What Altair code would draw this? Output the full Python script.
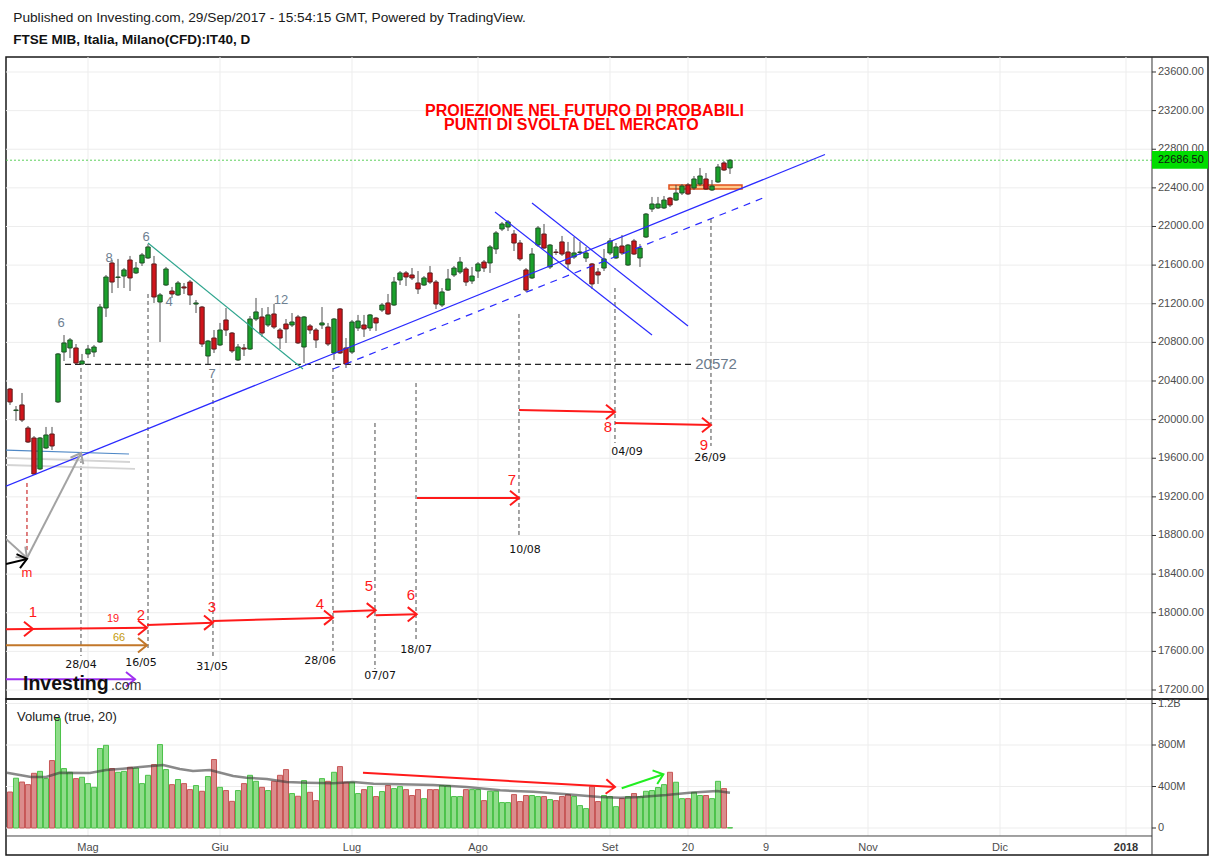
import altair as alt
import pandas as pd

# ---------------- daily bars (index 0 .. 120, last bar = 29/09/2017) ----------------
opens = [20317, 20094, 20152, 19913, 19810, 19489, 19706, 19851, 20183, 20700,
         20742, 20742, 20576, 20680, 20700, 20804, 21156, 21622, 21472, 21487,
         21653, 21519, 21622, 21674, 21612, 21218, 21394, 21332, 21291, 21374,
         21425, 21197, 21166, 20659, 20845, 20773, 21032, 20897, 20618, 20742,
         20731, 21042, 21063, 20980, 21094, 20928, 20990, 20980, 21063, 20752,
         20970, 20928, 20980, 20959, 20690, 21146, 20742, 20700, 20949, 20980,
         20949, 21052, 21135, 21208, 21187, 21446, 21519, 21498, 21415, 21394,
         21519, 21425, 21187, 21342, 21498, 21529, 21560, 21436, 21539, 21632,
         21622, 21767, 21974, 21995, 21922, 21829, 21550, 21467, 21808, 21922,
         21581, 21736, 21840, 21736, 21684, 21731, 21674, 21612, 21529, 21570,
         21726, 21674, 21798, 21601, 21850, 21674, 21891, 22181, 22192, 22192,
         22295, 22274, 22347, 22430, 22399, 22440, 22492, 22378, 22461, 22658,
         22606]
highs = [20328, 20141, 20276, 19934, 19830, 19820, 19924, 19924, 20690, 20876,
         20845, 20783, 20680, 20773, 20773, 21197, 21498, 21653, 21664, 21570,
         21695, 21632, 21726, 21819, 21695, 21311, 21581, 21374, 21436, 21415,
         21446, 21239, 21177, 20825, 20928, 21001, 21156, 20907, 20783, 20783,
         21073, 21260, 21156, 21166, 21197, 20949, 21042, 21104, 21084, 21073,
         20990, 20949, 21166, 21001, 21052, 21156, 20845, 21032, 21084, 21084,
         21094, 21063, 21208, 21301, 21477, 21539, 21539, 21570, 21539, 21487,
         21591, 21446, 21363, 21560, 21591, 21684, 21581, 21581, 21632, 21653,
         21808, 21953, 22047, 22067, 21964, 21860, 21570, 21777, 22005, 22026,
         21819, 21767, 21902, 21840, 21891, 21840, 21788, 21622, 21570, 21767,
         21881, 21829, 21912, 21819, 21871, 21819, 22140, 22306, 22306, 22316,
         22306, 22430, 22440, 22451, 22523, 22606, 22554, 22482, 22647, 22678,
         22699]
lows = [20152, 19986, 19975, 19758, 19427, 19478, 19696, 19685, 20172, 20607,
        20638, 20576, 20566, 20638, 20649, 20794, 21063, 21311, 21363, 21363,
        21332, 21508, 21591, 21664, 21208, 20804, 21384, 21260, 21280, 21301,
        21187, 21104, 20752, 20576, 20690, 20762, 20866, 20690, 20607, 20659,
        20721, 21021, 20856, 20959, 20939, 20731, 20794, 20959, 20783, 20586,
        20887, 20742, 20939, 20762, 20618, 20680, 20535, 20680, 20918, 20856,
        20918, 20918, 21115, 21084, 21177, 21394, 21384, 21446, 21301, 21384,
        21405, 21146, 21166, 21332, 21477, 21508, 21384, 21405, 21467, 21529,
        21519, 21715, 21953, 21953, 21746, 21643, 21322, 21456, 21788, 21767,
        21560, 21705, 21695, 21550, 21664, 21705, 21632, 21353, 21405, 21539,
        21705, 21664, 21705, 21591, 21705, 21581, 21881, 22150, 22181, 22181,
        22202, 22264, 22326, 22326, 22378, 22419, 22378, 22368, 22451, 22575,
        22544]
closes = [20183, 20100, 19996, 19768, 19437, 19810, 19841, 19727, 20680, 20794,
          20825, 20586, 20607, 20731, 20752, 21166, 21477, 21425, 21477, 21550,
          21467, 21570, 21705, 21788, 21270, 21291, 21560, 21301, 21415, 21363,
          21291, 21208, 20783, 20814, 20731, 20928, 20928, 20711, 20752, 20731,
          21042, 21115, 20897, 21084, 20959, 20845, 20939, 21011, 20794, 21063,
          20928, 20825, 21001, 20783, 21042, 20690, 20576, 21011, 21021, 20939,
          21084, 21001, 21187, 21094, 21425, 21519, 21477, 21467, 21353, 21467,
          21425, 21197, 21322, 21456, 21570, 21632, 21425, 21487, 21612, 21570,
          21788, 21933, 22026, 22047, 21829, 21664, 21342, 21715, 21984, 21777,
          21808, 21731, 21715, 21612, 21726, 21736, 21726, 21405, 21498, 21664,
          21850, 21788, 21726, 21808, 21715, 21777, 22129, 22233, 22233, 22274,
          22223, 22347, 22419, 22337, 22492, 22523, 22388, 22419, 22616, 22585,
          22686.5]
volumes_m = [347, 480, 443, 418, 527, 546, 476, 650, 1055, 573,
             537, 476, 489, 428, 392, 766, 797, 573, 537, 546,
             585, 578, 428, 508, 611, 804, 563, 418, 467, 428,
             370, 409, 354, 496, 660, 392, 361, 257, 361, 428,
             508, 450, 392, 361, 450, 508, 563, 332, 306, 457,
             344, 264, 476, 450, 537, 592, 441, 441, 332, 370,
             399, 303, 351, 409, 380, 399, 370, 313, 370, 283,
             370, 370, 409, 409, 303, 303, 370, 370, 370, 264,
             354, 354, 245, 245, 322, 255, 313, 313, 303, 303,
             274, 264, 303, 322, 303, 216, 187, 399, 255, 313,
             303, 206, 283, 303, 332, 303, 354, 361, 390, 418,
             537, 441, 283, 283, 344, 313, 313, 283, 450, 380,
             3]

# 20-period volume average as drawn in the lower pane (bar index, millions)
ma_idx = [-0.5, 3.5, 6, 8.3, 13.3, 16, 18.8, 21.7, 25.5, 28.3, 30.5, 33.3, 37.2, 39.4,
          42.8, 46.1, 49.4, 53.9, 57.2, 60.6, 65, 70.6, 76.1, 81.7, 87.2, 92.8, 98.3,
          101.7, 105, 109.4, 113.3, 117.8, 120]
ma_val = [533, 492, 492, 533, 530, 559, 572, 588, 607, 569, 549, 559, 501, 485,
          472, 443, 437, 431, 443, 427, 421, 414, 395, 363, 350, 325, 299,
          292, 299, 318, 340, 357, 340]

last_price = 22686.5

# axes
price_ticks = [17200, 17600, 18000, 18400, 18800, 19200, 19600, 20000, 20400,
               20800, 21200, 21600, 22000, 22400, 22800, 23200, 23600]
vol_ticks = [0, 400, 800, 1200]
vol_tick_labels = ["0", "400M", "800M", "1.2B"]
x_tick_idx = [13, 35, 57, 78, 100, 113, 126, 143, 165, 186]
x_tick_lab = ["Mag", "Giu", "Lug", "Ago", "Set", "20", "9", "Nov", "Dic", "2018"]

# ---------------- drawings (bar index, price) ----------------
trend_blue = [(-0.667, 19310, 135.83, 22745), (80.83, 22150, 107.0, 20876),
              (87.0, 22243, 113.0, 20970)]
trend_blue_dash = [(53.83, 20524, 125.5, 22295)]
trend_teal = [(23.0, 21829, 48.83, 20524)]
line_steel = [(-0.667, 19685, 19.83, 19644)]
line_lightgrey = [(-0.667, 19603, 20.0, 19561), (-0.667, 19530, 20.83, 19489)]
level_20572 = [(9.17, 20572, 114.0, 20572)]
red_dash_v = [(2.83, 19344, 2.83, 18619)]

cycle_idx = [11.83, 23.0, 33.83, 53.83, 60.83, 67.67, 84.83, 100.83, 116.83]
cycle_top = [20535, 21301, 20421, 20535, 19965, 20379, 21094, 21363, 22078]
cycle_bot = [17552, 17604, 17552, 17604, 17417, 17707, 18795, 19758, 19727]
cycle_lab = ["28/04", "16/05", "31/05", "28/06", "07/07", "18/07", "10/08", "04/09", "26/09"]
cycle_lab_i = [11.83, 21.83, 33.67, 51.67, 61.67, 67.67, 85.83, 102.83, 116.67]
cycle_lab_p = [17455, 17480, 17438, 17500, 17345, 17614, 18650, 19665, 19603]

red_arrows = [(-0.667, 17829, 22.83, 17845), (22.83, 17873, 33.83, 17897),
              (33.83, 17915, 53.83, 17949), (53.83, 18011, 60.95, 18025),
              (60.95, 17974, 67.78, 17984), (67.83, 19188, 84.83, 19188),
              (84.83, 20100, 100.83, 20079), (100.83, 19965, 116.83, 19944)]
red_mid_head = [(3.83, 17832)]
brown_arrow = [(-0.667, 17663, 22.83, 17663)]
purple_arrow = [(-0.667, 17311, 20.83, 17311)]
grey_arrow_up = [(2.83, 18567, 11.83, 19654)]
grey_arrow_in = [(-0.667, 18764, 2.83, 18567)]
black_arrow = [(-0.667, 18505, 2.83, 18557)]

red_numbers = [(3.83, 18008, "1"), (21.83, 17977, "2"), (33.67, 18060, "3"),
               (51.67, 18091, "4"), (59.83, 18277, "5"), (66.83, 18184, "6"),
               (83.67, 19375, "7"), (99.67, 19924, "8"), (115.67, 19740, "9")]
red_small = [(17.17, 17935, "19")]
red_m = [(2.83, 18412, "m")]
gold_small = [(18.17, 17739, "66")]
wave_counts = [(8.5, 21001, "6"), (16.5, 21674, "8"), (22.67, 21891, "6"),
               (26.5, 21218, "4"), (45.17, 21239, "12"), (33.67, 20472, "7")]
level_label = [(114.2, 20572, "20572")]
headline = [(69.17, 23201, "PROIEZIONE NEL FUTURO DI PROBABILI"),
            (72.33, 23046, "PUNTI DI SVOLTA DEL MERCATO")]
zone_rect = [(109.83, 22388, 122.0, 22430)]

# lower pane drawings (bar index, volume in millions)
vol_red_arrow = [(58.83, 533, 100.83, 395)]
vol_green_arrow = [(101.95, 383, 108.9, 518)]

# ---------------- layout constants ----------------
SANS = "Liberation Sans"
X_LEFT, X_RIGHT = -0.667, 199.667
AXIS_I = 190.333
TICK_I = 191.0
LABEL_I = 191.33
P_LOW, P_HIGH = 17106.8, 23755.3
V_LOW, V_HIGH = -260.2, 1243.4
V_BASE = -77.0
V_XLABEL = -192.7
W, H_P, H_V = 1202, 642, 156
CHEVRON = "M-1,-0.8L0,0L-1,0.8"
GREEN, GREEN_D = "#1aa12b", "#1f4f26"
RED, RED_D = "#d1141b", "#5c1d1d"
GRID = "#ededed"
AXC = "#333333"
LABC = "#4d4d4d"

XS = alt.Scale(domain=[X_LEFT, X_RIGHT], nice=False, zero=False, padding=0)
PS = alt.Scale(domain=[P_LOW, P_HIGH], nice=False, zero=False, padding=0)
VS = alt.Scale(domain=[V_LOW, V_HIGH], nice=False, zero=False, padding=0)


def X(f):
    return alt.X(f, type="quantitative", scale=XS, axis=None)


def PY(f):
    return alt.Y(f, type="quantitative", scale=PS, axis=None)


def VY(f):
    return alt.Y(f, type="quantitative", scale=VS, axis=None)


def segs(rows, color, width=1.0, dash=None, yenc=PY):
    df = pd.DataFrame(rows, columns=["x0", "y0", "x1", "y1"])
    kw = dict(color=color, strokeWidth=width, clip=True)
    if dash:
        kw["strokeDash"] = dash
    return alt.Chart(df).mark_rule(**kw).encode(x=X("x0"), x2="x1", y=yenc("y0"), y2="y1")


def heads(pts, color, angle=0, size=324, width=2, yenc=PY):
    df = pd.DataFrame(pts, columns=["x", "y"])
    return alt.Chart(df).mark_point(shape=CHEVRON, filled=False, size=size, strokeWidth=width,
                                    color=color, opacity=1, angle=angle, clip=True).encode(x=X("x"), y=yenc("y"))


def ends(rows):
    return [(r[2], r[3]) for r in rows]


def texts(rows, color, size, align="center", weight="normal", font=SANS, yenc=PY, baseline="middle"):
    df = pd.DataFrame(rows, columns=["x", "y", "t"])
    return alt.Chart(df).mark_text(color=color, fontSize=size, align=align, baseline=baseline,
                                   fontWeight=weight, font=font, clip=True).encode(
        x=X("x"), y=yenc("y"), text="t:N")


def right_axis(ticks, labels, yenc):
    df = pd.DataFrame({"v": ticks, "t": labels, "x0": AXIS_I, "x1": TICK_I, "xl": LABEL_I})
    line = alt.Chart(pd.DataFrame({"x": [AXIS_I]})).mark_rule(color=AXC, strokeWidth=1, clip=True).encode(x=X("x"))
    tk = alt.Chart(df).mark_rule(color=AXC, strokeWidth=1, clip=True).encode(x=X("x0"), x2="x1", y=yenc("v"))
    lb = alt.Chart(df).mark_text(color=LABC, fontSize=11, font=SANS, align="left", baseline="middle",
                                 clip=True).encode(x=X("xl"), y=yenc("v"), text="t:N")
    return [line, tk, lb]


bars = pd.DataFrame({"i": list(range(len(closes))), "o": opens, "h": highs, "l": lows,
                     "c": closes, "v": volumes_m})
UP = "datum.c >= datum.o"

# ---------------- price pane ----------------
grid_h = alt.Chart(pd.DataFrame({"p": price_ticks, "x0": X_LEFT, "x1": AXIS_I})).mark_rule(
    color=GRID, strokeWidth=1, clip=True).encode(x=X("x0"), x2="x1", y=PY("p"))
grid_v = alt.Chart(pd.DataFrame({"i": x_tick_idx})).mark_rule(color=GRID, strokeWidth=1, clip=True).encode(x=X("i"))
last_line = segs([(X_LEFT, last_price, AXIS_I, last_price)], "#5ccf5c", 1, [2, 2])
zone = alt.Chart(pd.DataFrame(zone_rect, columns=["x0", "y0", "x1", "y1"])).mark_rect(
    fill="#ffc98a", stroke="#e0501c", strokeWidth=1.5, clip=True).encode(x=X("x0"), x2="x1", y=PY("y0"), y2="y1")

cyc = pd.DataFrame({"x0": cycle_idx, "y0": cycle_top, "x1": cycle_idx, "y1": cycle_bot})
cycle_lines = alt.Chart(cyc).mark_rule(color="#4a4a4a", strokeWidth=1, strokeDash=[4, 3], clip=True).encode(
    x=X("x0"), x2="x1", y=PY("y0"), y2="y1")
cycle_texts = texts(list(zip(cycle_lab_i, cycle_lab_p, cycle_lab)), "#111", 11, font="DejaVu Sans")

wicks = alt.Chart(bars).mark_rule(color="#4f4f4f", strokeWidth=1, clip=True).encode(x=X("i"), y=PY("l"), y2="h")
bodies = alt.Chart(bars).transform_calculate(
    b0="datum.i - 0.36", b1="datum.i + 0.36"
).mark_rect(strokeWidth=1, clip=True).encode(
    x=X("b0:Q"), x2="b1:Q", y=PY("o"), y2="c",
    fill=alt.condition(UP, alt.value(GREEN), alt.value(RED)),
    stroke=alt.condition(UP, alt.value(GREEN_D), alt.value(RED_D)))

price_price_labels = [f"{v:.2f}" for v in price_ticks]

price_layers = [
    grid_h, grid_v, last_line, zone,
    segs(level_20572, "#222", 1.2, [6, 4]),
    cycle_lines,
    segs(red_dash_v, "#c00000", 1, [4, 3]),
    segs(line_steel, "#4f88c6", 1.2),
    segs(line_lightgrey, "#d4d4d4", 1.8),
    wicks, bodies,
    segs(trend_blue, "#2a2aff", 1.2),
    segs(trend_blue_dash, "#2a2aff", 1.2, [7, 6]),
    segs(trend_teal, "#2ea58e", 1.2),
    segs(red_arrows, "#ff1a1a", 2), heads(ends(red_arrows) + red_mid_head, "#ff1a1a"),
    segs(brown_arrow, "#c2772a", 2), heads(ends(brown_arrow), "#c2772a"),
    segs(purple_arrow, "#a030f0", 2), heads(ends(purple_arrow), "#a030f0"),
    segs(grey_arrow_up, "#a3a3a3", 2), heads(ends(grey_arrow_up), "#a3a3a3", angle=297),
    segs(grey_arrow_in, "#a3a3a3", 2), heads(ends(grey_arrow_in), "#a3a3a3", angle=43),
    segs(black_arrow, "#000000", 2), heads(ends(black_arrow), "#000000", angle=346),
    cycle_texts,
    texts(red_numbers, "#ff1a1a", 15),
    texts(red_small, "#ff1a1a", 11),
    texts(red_m, "#ff1a1a", 13),
    texts(gold_small, "#c49a0c", 11),
    texts(wave_counts, "#6e7f91", 13),
    texts(level_label, "#6b7b8c", 15, align="left"),
    texts(headline, "#ff0000", 16, align="left", weight="bold"),
    texts([(2.17, 17200, "Investing")], "#111111", 19.5, align="left", weight="bold", baseline="alphabetic"),
    texts([(16.83, 17200, ".com")], "#333333", 14, align="left", baseline="alphabetic"),
] + right_axis(price_ticks, price_price_labels, PY)

price_box = alt.Chart(pd.DataFrame({"x0": [AXIS_I], "x1": [X_RIGHT], "y0": [22598], "y1": [22782]})).mark_rect(
    fill="#00dd00", clip=True).encode(x=X("x0"), x2="x1", y=PY("y0"), y2="y1")
price_box_text = texts([(LABEL_I, last_price, "22686.50")], "#111111", 11, align="left")

price = alt.layer(*price_layers, price_box, price_box_text).properties(width=W, height=H_P)

# ---------------- volume pane ----------------
vgrid_h = alt.Chart(pd.DataFrame({"v": vol_ticks, "x0": X_LEFT, "x1": AXIS_I})).mark_rule(
    color=GRID, strokeWidth=1, clip=True).encode(x=X("x0"), x2="x1", y=VY("v"))
vgrid_v = alt.Chart(pd.DataFrame({"i": x_tick_idx, "y0": V_BASE, "y1": V_HIGH})).mark_rule(
    color=GRID, strokeWidth=1, clip=True).encode(x=X("i"), y=VY("y0"), y2="y1")
vbase = segs([(X_LEFT, V_BASE, AXIS_I, V_BASE)], "#444444", 1, yenc=VY)
vbars = alt.Chart(bars).transform_calculate(
    b0="datum.i - 0.42", b1="datum.i + 0.42", z="0"
).mark_rect(strokeWidth=1, clip=True).encode(
    x=X("b0:Q"), x2="b1:Q", y=VY("v"), y2="z:Q",
    fill=alt.condition(UP, alt.value("#8fdc8a"), alt.value("#db8c8c")),
    stroke=alt.condition(UP, alt.value("#4cc24a"), alt.value("#c75757")))
ma = alt.Chart(pd.DataFrame({"i": ma_idx, "v": ma_val})).mark_line(
    color="#3a3a3a", strokeWidth=2.5, opacity=0.6, strokeJoin="round", clip=True).encode(x=X("i"), y=VY("v"))

x_rows = [(i, V_XLABEL, t) for i, t in zip(x_tick_idx, x_tick_lab)]
x_labels_plain = texts([r for r in x_rows if r[2] != "2018"], LABC, 11, yenc=VY)
x_labels_bold = texts([r for r in x_rows if r[2] == "2018"], "#333333", 11, weight="bold", yenc=VY)

volume = alt.layer(
    vgrid_h, vgrid_v, vbase, vbars, ma,
    segs(vol_red_arrow, "#ff1a1a", 2, yenc=VY), heads(ends(vol_red_arrow), "#ff1a1a", angle=3, yenc=VY),
    segs(vol_green_arrow, "#22ee22", 2, yenc=VY), heads(ends(vol_green_arrow), "#22ee22", angle=341, yenc=VY),
    texts([(1.17, 1070, "Volume (true, 20)")], "#222222", 13, align="left", yenc=VY),
    x_labels_plain, x_labels_bold,
    *right_axis(vol_ticks, vol_tick_labels, VY),
).properties(width=W, height=H_V)

chart = alt.vconcat(
    price, volume, spacing=0, bounds="flush",
    title=alt.TitleParams(
        text="Published on Investing.com, 29/Sep/2017 - 15:54:15 GMT, Powered by TradingView.",
        subtitle="FTSE MIB, Italia, Milano(CFD):IT40, D",
        anchor="start", dx=8, font=SANS, fontSize=13.7, fontWeight="normal", color="#1a1a1a",
        subtitleFont=SANS, subtitleFontSize=13.5, subtitleFontWeight="bold", subtitleColor="#111111",
        subtitlePadding=8, offset=10),
).properties(
    padding={"left": 5, "top": 11, "right": 5, "bottom": 4},
).configure_view(stroke="#1a1a1a", strokeWidth=1.5)

chart.save("out.html", embed_options={"renderer": "svg", "actions": False})
